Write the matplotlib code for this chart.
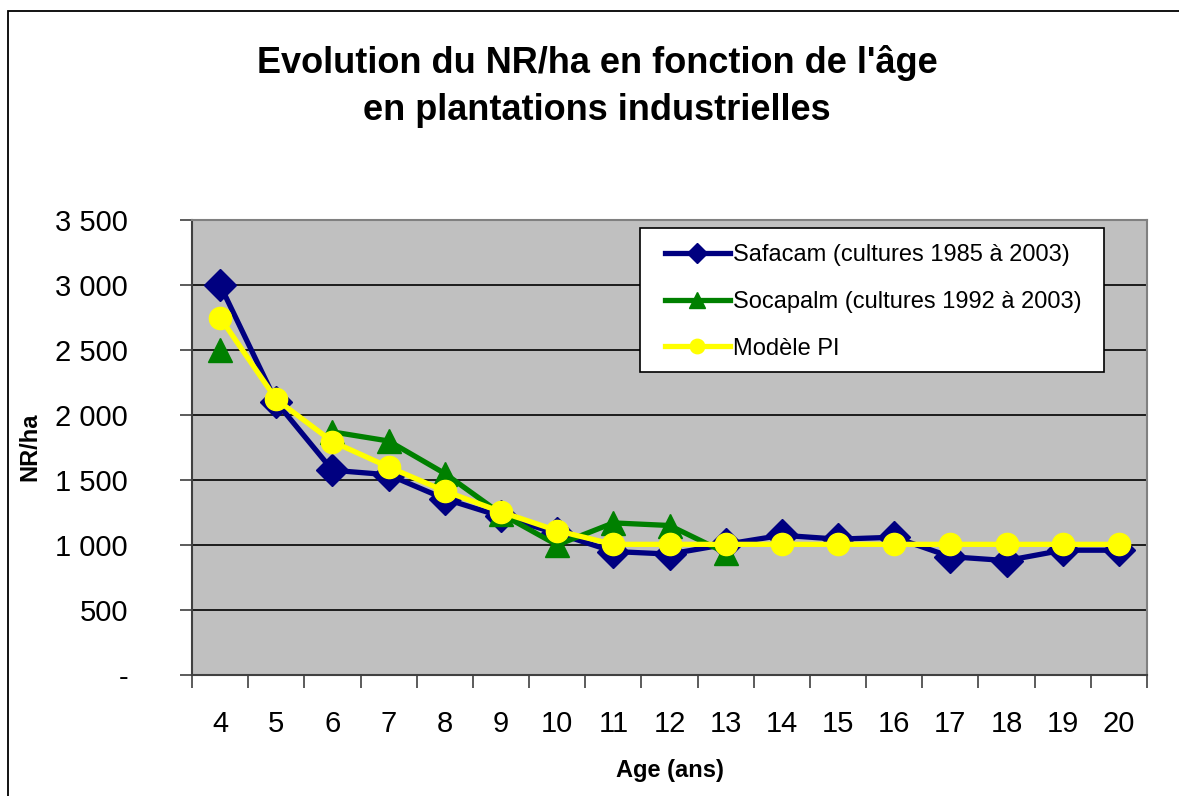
import numpy as np
import matplotlib
matplotlib.use("Agg")
import matplotlib.pyplot as plt
from matplotlib.patches import Rectangle
from matplotlib.ticker import FuncFormatter

ages = [4, 5, 6, 7, 8, 9, 10, 11, 12, 13, 14, 15, 16, 17, 18, 19, 20]
safacam = [3000, 2100, 1575, 1540, 1355, 1220, 1090, 950, 930, 1005, 1075, 1045, 1060, 910, 880, 960, 960]
socapalm = [2500, np.nan, 1870, 1800, 1550, 1240, 1000, 1170, 1150, 940,
            np.nan, np.nan, np.nan, np.nan, np.nan, np.nan, np.nan]
modele = [2750, 2120, 1795, 1600, 1415, 1255, 1110, 1005, 1005, 1005, 1005, 1005, 1005, 1005, 1005, 1005, 1005]
yticks = [0, 500, 1000, 1500, 2000, 2500, 3000, 3500]

plt.rcParams['font.family'] = ['Liberation Sans', 'DejaVu Sans']

W, H = 1179, 796
fig = plt.figure(figsize=(W / 100, H / 100), dpi=100)
fig.patch.set_facecolor('white')

# outer frame
fig.patches.append(Rectangle((8 / W, -0.05), 1.2, 1 - 11 / H + 0.05, transform=fig.transFigure,
                             fill=False, edgecolor='black', linewidth=1.3))

ax = fig.add_axes([192 / W, 1 - 675 / H, (1147 - 192) / W, (675 - 220) / H])
ax.set_facecolor('#C0C0C0')
x = np.arange(len(ages))

ax.plot(x, safacam, color='#000080', lw=3.8, marker='D', ms=16, label='Safacam (cultures 1985 à 2003)', zorder=3)
ax.plot(x, socapalm, color='#008000', lw=3.8, marker='^', ms=17, label='Socapalm (cultures 1992 à 2003)', zorder=4)
ax.plot(x, modele, color='#FFFF00', lw=3.8, marker='o', ms=16, label='Modèle PI', zorder=5)

ax.set_xlim(-0.5, len(ages) - 0.5)
ax.set_ylim(0, 3500)
ax.set_yticks(yticks)
ax.yaxis.set_major_formatter(FuncFormatter(lambda v, p: '-' if v == 0 else f"{int(v):,}".replace(',', ' ')))
ax.set_xticks(x)
ax.set_xticklabels([str(a) for a in ages])
ax.set_xticks(np.arange(len(ages) + 1) - 0.5, minor=True)
ax.tick_params(axis='x', which='major', length=0, labelsize=21, pad=25)
ax.tick_params(axis='x', which='minor', length=9, width=1.2, color='#404040')
ax.tick_params(axis='y', length=9, width=1.2, color='#404040', labelsize=21, pad=37)
for t in ax.get_yticklabels():
    t.set_horizontalalignment('right')
ax.grid(axis='y', color='black', lw=1.2, zorder=1)
ax.set_axisbelow(True)
for s in ax.spines.values():
    s.set_color('#808080')
    s.set_linewidth(1.5)
ax.spines['left'].set_color('#404040')
ax.spines['bottom'].set_color('#404040')

fig.text(597 / W, 1 - 63 / H, "Evolution du NR/ha en fonction de l'âge", ha='center', va='center',
         fontsize=26, fontweight='bold')
fig.text(597 / W, 1 - 110 / H, "en plantations industrielles", ha='center', va='center',
         fontsize=26, fontweight='bold')
fig.text(30 / W, 1 - 447 / H, "NR/ha", rotation=90, ha='center', va='center', fontsize=17, fontweight='bold')
fig.text(670 / W, 1 - 770 / H, "Age (ans)", ha='center', va='center', fontsize=17, fontweight='bold')

# legend frame
ax.add_patch(Rectangle((640 / W, 1 - 372 / H), (1104 - 640) / W, (372 - 228) / H, transform=fig.transFigure,
                       facecolor='white', edgecolor='black', linewidth=1.2, zorder=10))
leg = ax.legend(loc='upper left', bbox_to_anchor=(665 / W, 1 - 244 / H), bbox_transform=fig.transFigure,
                borderaxespad=0, borderpad=0, fontsize=17, frameon=False, handlelength=2.75,
                handletextpad=0.15, labelspacing=1.05, markerscale=0.65)
leg.set_zorder(11)

fig.savefig('out.png', dpi=100)
